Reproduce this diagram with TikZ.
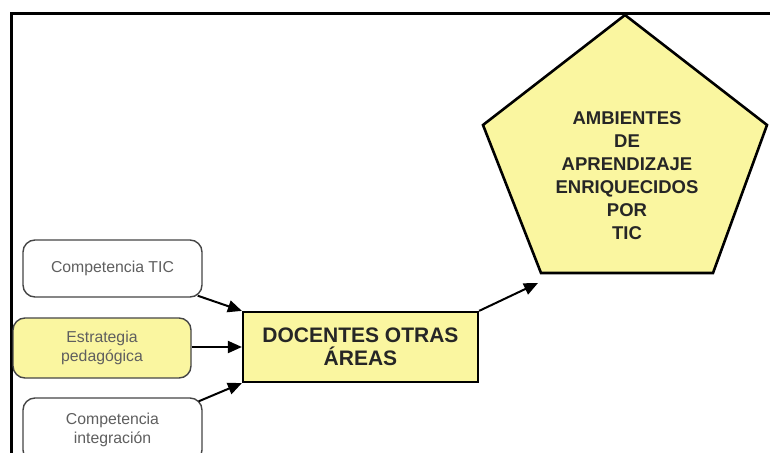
\documentclass[tikz,border=0pt]{standalone}
\usepackage{fontspec}
\setmainfont{Liberation Sans}
\usetikzlibrary{arrows.meta}
\definecolor{boxyellow}{RGB}{250,246,160}
\definecolor{edgegray}{RGB}{70,70,70}
\definecolor{txtgray}{RGB}{95,95,95}
\begin{document}
\begin{tikzpicture}[x=1pt,y=-1pt,
  smallbox/.style={draw=edgegray,line width=1.4pt,rounded corners=12pt,align=center,
    font=\fontsize{15.8}{19.5}\selectfont,text=txtgray,minimum width=179pt,inner sep=0pt},
  bigbox/.style={draw=black,line width=2.2pt,fill=boxyellow,align=center,
    font=\fontsize{21}{22.5}\selectfont\bfseries,text=black!85,minimum width=235pt,minimum height=70pt,inner sep=0pt},
  conn/.style={line width=2pt,-{Triangle[length=14pt,width=12pt]}},
  frameline/.style={line width=3pt,black}]
\useasboundingbox (0,0) rectangle (770,452);
\clip (0,0) rectangle (770,452);
\fill[white] (0,0) rectangle (770,452);
% frame
\coordinate (f1) at (11,460);
\coordinate (f2) at (11,14);
\coordinate (f3) at (775,14);
\draw[frameline] (f1) -- (f2) -- (f3);
% pentagon
\coordinate (pA) at (625,15);
\coordinate (pB) at (767,125);
\coordinate (pC) at (713,273);
\coordinate (pD) at (541,273);
\coordinate (pE) at (483,125);
\draw[line width=2.6pt,fill=boxyellow,line join=miter] (pA) -- (pB) -- (pC) -- (pD) -- (pE) -- cycle;
\node[align=center,font=\fontsize{18.5}{23}\selectfont\bfseries,text=black!85] (amb) at (627,175.5)
  {AMBIENTES\\DE\\APRENDIZAJE\\ENRIQUECIDOS\\POR\\TIC};
% boxes
\node[smallbox,minimum height=57pt] (ctic) at (112.5,268.5) {Competencia TIC};
\node[smallbox,minimum height=60pt,minimum width=178pt,fill=boxyellow] (estr) at (102,348) {Estrategia\\pedagógica};
\node[smallbox,minimum height=64pt] (cint) at (112.5,430) {Competencia\\integración};
\node[bigbox] (doc) at (360.5,347) {DOCENTES OTRAS\\ÁREAS};
% connectors
\coordinate (tip) at (538,283);
\draw[conn] ([xshift=-5pt,yshift=2pt]ctic.south east) -- (doc.north west);
\draw[conn] (estr.east |- doc.west) -- (doc.west);
\draw[conn] ([xshift=-4pt,yshift=-4pt]cint.north east) -- (doc.south west);
\draw[conn] (doc.north east) -- (tip);
\end{tikzpicture}
\end{document}
